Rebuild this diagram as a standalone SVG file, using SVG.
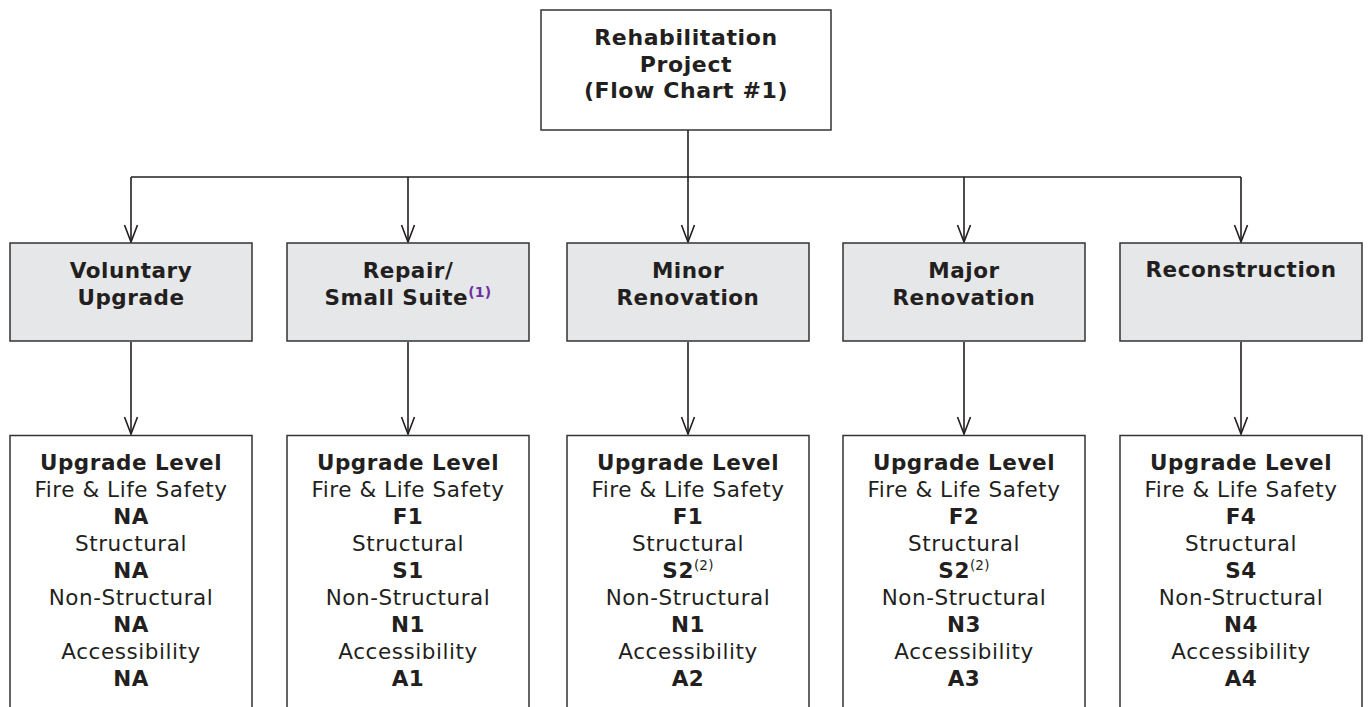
<svg xmlns="http://www.w3.org/2000/svg" width="1369" height="707" viewBox="0 0 1369 707">
<style>
  .box { fill: #ffffff; stroke: #333333; stroke-width: 1.5; }
  .gbox { fill: #e6e7e9; stroke: #333333; stroke-width: 1.5; }
  .t { font-family: "DejaVu Sans", Verdana, sans-serif; font-size: 21.5px; letter-spacing: 0.55px; fill: #231f20; text-anchor: middle; }
  .b { font-weight: bold; }
  .h { font-size: 22px; letter-spacing: 0.6px; }
  .sup1 { font-size: 14px; font-weight: bold; fill: #7030a0; letter-spacing: 0.3px; }
  .sup2 { font-size: 13.5px; font-weight: normal; letter-spacing: 0.2px; }
  .c { fill: none; stroke: #231f20; stroke-width: 1.6; }
</style>
<g id="connectors">
  <path class="c" d="M688,130 V177"/>
  <path class="c" d="M131,177 H1241"/>
  <path class="c" d="M131,177 V242"/>
  <path class="c" d="M408,177 V242"/>
  <path class="c" d="M688,177 V242"/>
  <path class="c" d="M964,177 V242"/>
  <path class="c" d="M1241,177 V242"/>
  <path class="c" d="M131,342 V434"/>
  <path class="c" d="M408,342 V434"/>
  <path class="c" d="M688,342 V434"/>
  <path class="c" d="M964,342 V434"/>
  <path class="c" d="M1241,342 V434"/>
  <g class="c">
    <path d="M124.5,225 L131,242 L137.5,225"/>
    <path d="M401.5,225 L408,242 L414.5,225"/>
    <path d="M681.5,225 L688,242 L694.5,225"/>
    <path d="M957.5,225 L964,242 L970.5,225"/>
    <path d="M1234.5,225 L1241,242 L1247.5,225"/>
    <path d="M124.5,417 L131,434 L137.5,417"/>
    <path d="M401.5,417 L408,434 L414.5,417"/>
    <path d="M681.5,417 L688,434 L694.5,417"/>
    <path d="M957.5,417 L964,434 L970.5,417"/>
    <path d="M1234.5,417 L1241,434 L1247.5,417"/>
  </g>
</g>
<g id="root">
  <rect class="box" x="541" y="10" width="290" height="120"/>
  <text class="t b h" x="686" y="45">Rehabilitation</text>
  <text class="t b h" x="686" y="72">Project</text>
  <text class="t b h" x="686" y="98">(Flow Chart #1)</text>
</g>
<g id="voluntary">
  <rect class="gbox" x="10" y="243" width="242" height="98"/>
  <text class="t b" x="131" y="278">Voluntary</text>
  <text class="t b" x="131" y="305">Upgrade</text>
</g>
<g id="repair">
  <rect class="gbox" x="287" y="243" width="242" height="98"/>
  <text class="t b" x="408" y="278">Repair/</text>
  <text class="t b" x="408" y="305">Small Suite<tspan class="sup1" dy="-8">(1)</tspan></text>
</g>
<g id="minor">
  <rect class="gbox" x="567" y="243" width="242" height="98"/>
  <text class="t b" x="688" y="278">Minor</text>
  <text class="t b" x="688" y="305">Renovation</text>
</g>
<g id="major">
  <rect class="gbox" x="843" y="243" width="242" height="98"/>
  <text class="t b" x="964" y="278">Major</text>
  <text class="t b" x="964" y="305">Renovation</text>
</g>
<g id="reconstruction">
  <rect class="gbox" x="1120" y="243" width="242" height="98"/>
  <text class="t b" x="1241" y="277">Reconstruction</text>
</g>
<g id="level-voluntary">
  <path class="box" d="M10,708 V435.5 H252 V708"/>
  <text class="t b" x="131" y="470">Upgrade Level</text>
  <text class="t" x="131" y="497">Fire &amp; Life Safety</text>
  <text class="t b" x="131" y="524">NA</text>
  <text class="t" x="131" y="551">Structural</text>
  <text class="t b" x="131" y="578">NA</text>
  <text class="t" x="131" y="605">Non-Structural</text>
  <text class="t b" x="131" y="632">NA</text>
  <text class="t" x="131" y="659">Accessibility</text>
  <text class="t b" x="131" y="686">NA</text>
</g>
<g id="level-repair">
  <path class="box" d="M287,708 V435.5 H529 V708"/>
  <text class="t b" x="408" y="470">Upgrade Level</text>
  <text class="t" x="408" y="497">Fire &amp; Life Safety</text>
  <text class="t b" x="408" y="524">F1</text>
  <text class="t" x="408" y="551">Structural</text>
  <text class="t b" x="408" y="578">S1</text>
  <text class="t" x="408" y="605">Non-Structural</text>
  <text class="t b" x="408" y="632">N1</text>
  <text class="t" x="408" y="659">Accessibility</text>
  <text class="t b" x="408" y="686">A1</text>
</g>
<g id="level-minor">
  <path class="box" d="M567,708 V435.5 H809 V708"/>
  <text class="t b" x="688" y="470">Upgrade Level</text>
  <text class="t" x="688" y="497">Fire &amp; Life Safety</text>
  <text class="t b" x="688" y="524">F1</text>
  <text class="t" x="688" y="551">Structural</text>
  <text class="t b" x="688" y="578">S2<tspan class="sup2" dy="-8">(2)</tspan></text>
  <text class="t" x="688" y="605">Non-Structural</text>
  <text class="t b" x="688" y="632">N1</text>
  <text class="t" x="688" y="659">Accessibility</text>
  <text class="t b" x="688" y="686">A2</text>
</g>
<g id="level-major">
  <path class="box" d="M843,708 V435.5 H1085 V708"/>
  <text class="t b" x="964" y="470">Upgrade Level</text>
  <text class="t" x="964" y="497">Fire &amp; Life Safety</text>
  <text class="t b" x="964" y="524">F2</text>
  <text class="t" x="964" y="551">Structural</text>
  <text class="t b" x="964" y="578">S2<tspan class="sup2" dy="-8">(2)</tspan></text>
  <text class="t" x="964" y="605">Non-Structural</text>
  <text class="t b" x="964" y="632">N3</text>
  <text class="t" x="964" y="659">Accessibility</text>
  <text class="t b" x="964" y="686">A3</text>
</g>
<g id="level-reconstruction">
  <path class="box" d="M1120,708 V435.5 H1362 V708"/>
  <text class="t b" x="1241" y="470">Upgrade Level</text>
  <text class="t" x="1241" y="497">Fire &amp; Life Safety</text>
  <text class="t b" x="1241" y="524">F4</text>
  <text class="t" x="1241" y="551">Structural</text>
  <text class="t b" x="1241" y="578">S4</text>
  <text class="t" x="1241" y="605">Non-Structural</text>
  <text class="t b" x="1241" y="632">N4</text>
  <text class="t" x="1241" y="659">Accessibility</text>
  <text class="t b" x="1241" y="686">A4</text>
</g>
</svg>
